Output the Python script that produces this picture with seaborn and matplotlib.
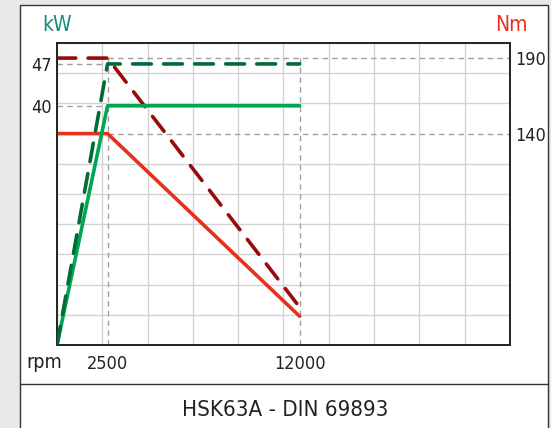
import numpy as np
import pandas as pd
import matplotlib
matplotlib.use("Agg")
import matplotlib.pyplot as plt
from matplotlib.patches import Rectangle
from matplotlib.lines import Line2D
import seaborn as sns

# ---- data ----
rpm = [0, 2500, 12000]
power_s1_kw = [0, 40, 40]
power_s6_kw = [0, 47, 47]
torque_s1_nm = [140, 140, 19]
torque_s6_nm = [190, 190, 25]
kw_ticks = [40, 47]
nm_ticks = [140, 190]
rpm_ticks = [2500, 12000]
caption = "HSK63A - DIN 69893"

sns.set_style("white")
plt.rcParams["font.family"] = ["DejaVu Sans"]
plt.rcParams["font.stretch"] = "condensed"

W, H = 551, 428
fig = plt.figure(figsize=(W / 100, H / 100), dpi=100, facecolor="#e8e8e8")

# outer white frame
fig.patches.append(Rectangle((20 / W, -0.01), (548 - 20) / W, (H - 5) / H + 0.01,
                             transform=fig.transFigure, facecolor="white",
                             edgecolor="#333333", lw=1.0, zorder=-5))
fig.lines.append(Line2D([20 / W, 548 / W], [(H - 384) / H] * 2, transform=fig.transFigure,
                        color="#333333", lw=1.0, zorder=-4))

ax_nm = fig.add_axes([57 / W, (H - 345) / H, (510 - 57) / W, (345 - 43) / H])
ax_kw = ax_nm.twinx()
ax_nm.yaxis.tick_right()
ax_kw.yaxis.tick_left()

XMAX = 22400
KWMAX = 50.5
NMMAX = 200
ax_nm.set_xlim(0, XMAX)
ax_nm.set_ylim(0, NMMAX)
ax_kw.set_ylim(0, KWMAX)

# grid
ax_nm.set_xticks(np.linspace(0, XMAX, 11), minor=True)
ax_nm.set_yticks(np.linspace(0, NMMAX, 11), minor=True)
ax_nm.grid(which="minor", color="#d3d3d3", lw=1.0)
ax_nm.grid(which="major", visible=False)
ax_nm.tick_params(which="minor", length=0)

# ticks
ax_nm.set_xticks(rpm_ticks)
ax_nm.set_xticklabels([str(v) for v in rpm_ticks])
ax_nm.set_yticks(nm_ticks)
ax_nm.set_yticklabels([str(v) for v in nm_ticks])
ax_kw.set_yticks(kw_ticks)
ax_kw.set_yticklabels([str(v) for v in kw_ticks])
ax_nm.tick_params(axis="x", length=0, pad=7, labelsize=13, labelcolor="#222222")
ax_nm.tick_params(axis="y", length=0, pad=4, labelsize=13, labelcolor="#222222",
                  right=True, labelright=True, left=False, labelleft=False)
ax_kw.tick_params(axis="y", length=0, pad=4, labelsize=13, labelcolor="#222222",
                  left=True, labelleft=True, right=False, labelright=False)

for a in (ax_nm, ax_kw):
    for s in a.spines.values():
        s.set_color("#222222")
        s.set_linewidth(1.2)

# guides
gstyle = dict(color="#a0a0a0", lw=1.0, linestyle=(0, (4, 3)), zorder=1.5)
ax_nm.plot([rpm[1], XMAX], [torque_s6_nm[1]] * 2, **gstyle)
ax_nm.plot([rpm[1], XMAX], [torque_s1_nm[1]] * 2, **gstyle)
ax_nm.plot([rpm[1]] * 2, [0, torque_s6_nm[1]], **gstyle)
ax_nm.plot([rpm[2]] * 2, [0, torque_s6_nm[1]], **gstyle)
ax_kw.plot([0, rpm[1]], [power_s6_kw[1]] * 2, **gstyle)
ax_kw.plot([0, rpm[1]], [power_s1_kw[1]] * 2, **gstyle)

df = pd.DataFrame({"rpm": rpm, "kW S1": power_s1_kw, "kW S6": power_s6_kw,
                   "Nm S1": torque_s1_nm, "Nm S6": torque_s6_nm})

dash = (0, (5.2, 3.4))
sns.lineplot(data=df, x="rpm", y="Nm S1", ax=ax_nm, color="#e5321f", lw=2.6,
             sort=False, estimator=None, zorder=3)
sns.lineplot(data=df, x="rpm", y="Nm S6", ax=ax_nm, color="#9a0a0a", lw=2.6,
             linestyle=dash, dash_capstyle="round", sort=False, estimator=None, zorder=3)
sns.lineplot(data=df, x="rpm", y="kW S1", ax=ax_kw, color="#00a651", lw=2.6,
             sort=False, estimator=None, zorder=3)
sns.lineplot(data=df, x="rpm", y="kW S6", ax=ax_kw, color="#006b35", lw=2.6,
             linestyle=dash, dash_capstyle="round", sort=False, estimator=None, zorder=3)

for a in (ax_nm, ax_kw):
    a.set_xlabel("")
    a.set_ylabel("")
ax_nm.set_xlim(0, XMAX)
ax_nm.set_ylim(0, NMMAX)
ax_kw.set_ylim(0, KWMAX)

# labels
fig.text(57 / W, (H - 25) / H, "kW", color="#1a8a78", fontsize=15, ha="center", va="center")
fig.text(511 / W, (H - 25) / H, "Nm", color="#e5321f", fontsize=15, ha="center", va="center")
fig.text(44 / W, (H - 362) / H, "rpm", color="#222222", fontsize=14, ha="center", va="center")
fig.text(285 / W, (H - 410) / H, caption, color="#222222", fontsize=16, ha="center", va="center")

fig.savefig("out.png", dpi=100, facecolor=fig.get_facecolor())
